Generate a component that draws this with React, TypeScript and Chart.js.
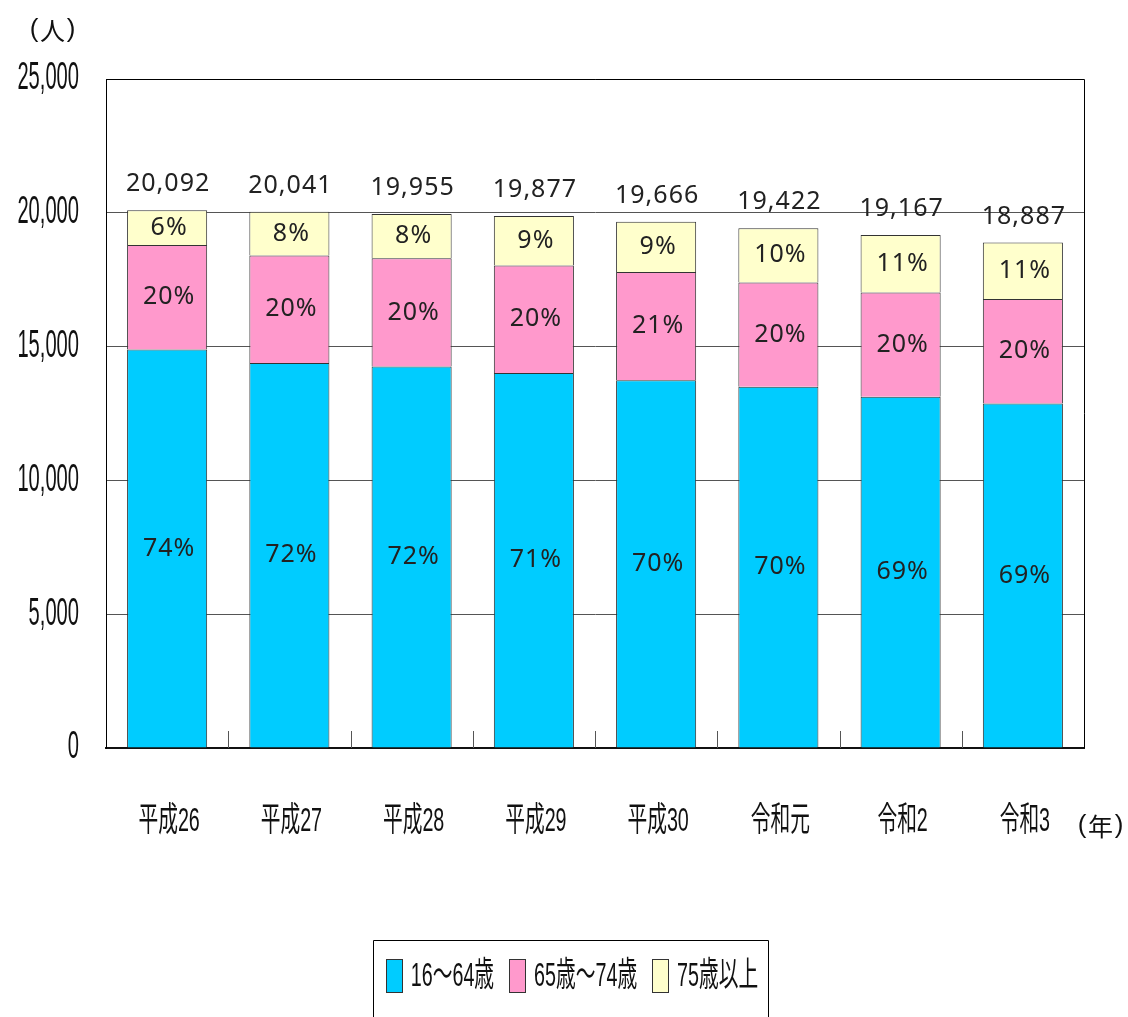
import React, { useEffect, useRef } from 'react';
import { Chart, registerables } from 'chart.js';

Chart.register(...registerables);

const categories = ['平成26', '平成27', '平成28', '平成29', '平成30', '令和元', '令和2', '令和3'];
const age16to64 = [14894, 14383, 14259, 14009, 13747, 13496, 13122, 12876];
const age65to74 = [3900, 4026, 4038, 4026, 4038, 3904, 3904, 3899];
const age75plus = [1298, 1632, 1658, 1842, 1881, 2022, 2141, 2112];
const totals = [20092, 20041, 19955, 19877, 19666, 19422, 19167, 18887];
const pct16to64 = ['74%', '72%', '72%', '71%', '70%', '70%', '69%', '69%'];
const pct65to74 = ['20%', '20%', '20%', '20%', '21%', '20%', '20%', '20%'];
const pct75plus = ['6%', '8%', '8%', '9%', '9%', '10%', '11%', '11%'];
const seriesNames = ['16～64歳', '65歳～74歳', '75歳以上'];
const seriesColors = ['#00CCFF', '#FF99CC', '#FFFFCC'];
const yUnit = '(人)';
const xUnit = '(年)';

const CJK = '"Liberation Sans", "Noto Sans CJK JP", sans-serif';
const CJK_ONLY = '"Noto Sans CJK JP", sans-serif';

function drawCondensed(ctx: CanvasRenderingContext2D, text: string, x: number, y: number, font: string, sx: number, align: 'left' | 'center' | 'right') {
  ctx.save();
  ctx.font = font;
  ctx.textBaseline = 'middle';
  ctx.textAlign = 'left';
  const w = ctx.measureText(text).width * sx;
  const left = align === 'center' ? x - w / 2 : align === 'right' ? x - w : x;
  ctx.translate(left, y);
  ctx.scale(sx, 1);
  ctx.fillStyle = '#111';
  ctx.fillText(text, 0, 0);
  ctx.restore();
  return w;
}

function measureCondensed(ctx: CanvasRenderingContext2D, text: string, font: string, sx: number) {
  ctx.save();
  ctx.font = font;
  const w = ctx.measureText(text).width * sx;
  ctx.restore();
  return w;
}

function drawUnit(ctx: CanvasRenderingContext2D, text: string, cx: number, cy: number) {
  const chars = Array.from(text);
  ctx.save();
  ctx.fillStyle = '#111';
  ctx.textAlign = 'center';
  ctx.textBaseline = 'middle';
  ctx.font = '26px "Liberation Sans", sans-serif';
  ctx.fillText(chars[0], cx - 18.5, cy);
  ctx.fillText(chars[2], cx + 18.5, cy);
  ctx.font = '25px ' + CJK_ONLY;
  ctx.fillText(chars[1], cx, cy);
  ctx.restore();
}

const decorPlugin = {
  id: 'decor',
  afterDraw(chart: any) {
    const ctx: CanvasRenderingContext2D = chart.ctx;
    const { left, right, top, bottom } = chart.chartArea;
    const xs = chart.scales.x;
    const ys = chart.scales.y;

    // frame top / right
    ctx.save();
    ctx.strokeStyle = '#000';
    ctx.lineWidth = 1;
    ctx.beginPath();
    ctx.moveTo(left, top + 0.5);
    ctx.lineTo(right + 0.5, top + 0.5);
    ctx.lineTo(right + 0.5, bottom);
    ctx.stroke();

    // x tick marks between categories (pointing up)
    ctx.strokeStyle = '#555';
    ctx.beginPath();
    for (let i = 0; i < categories.length - 1; i++) {
      const px = Math.round((xs.getPixelForValue(i) + xs.getPixelForValue(i + 1)) / 2) + 0.5;
      ctx.moveTo(px, bottom);
      ctx.lineTo(px, bottom - 17);
    }
    ctx.stroke();
    ctx.restore();

    // y tick labels
    ys.ticks.forEach((t: any) => {
      const py = ys.getPixelForValue(t.value);
      drawCondensed(ctx, t.value.toLocaleString('en-US'), left - 27, py, '38px "Liberation Sans"', 0.53, 'right');
    });

    // x tick labels
    xs.ticks.forEach((t: any, i: number) => {
      const px = xs.getPixelForValue(i);
      drawCondensed(ctx, categories[i], px + 2, 822, '34px ' + CJK, 0.58, 'center');
    });

    // units
    drawUnit(ctx, yUnit, 52.5, 30);
    drawUnit(ctx, xUnit, 1100.5, 826);

    // data labels
    ctx.save();
    ctx.font = '25px "Noto Sans", sans-serif';
    (ctx as any).letterSpacing = '1px';
    ctx.fillStyle = '#222';
    ctx.textAlign = 'center';
    ctx.textBaseline = 'middle';
    const pctSets = [pct16to64, pct65to74, pct75plus];
    chart.data.datasets.forEach((ds: any, di: number) => {
      const meta = chart.getDatasetMeta(di);
      meta.data.forEach((bar: any, i: number) => {
        const cy = (bar.y + bar.base) / 2;
        ctx.fillText(pctSets[di][i], bar.x + 2, cy);
      });
    });
    const topMeta = chart.getDatasetMeta(chart.data.datasets.length - 1);
    topMeta.data.forEach((bar: any, i: number) => {
      ctx.fillText(totals[i].toLocaleString('en-US'), bar.x + 1, bar.y - 26);
    });
    ctx.restore();

    // legend
    const font = '34px ' + CJK;
    const sx = 0.58;
    const boxW = 17, boxH = 34, gapBoxText = 8, gapItems = 15;
    const widths = seriesNames.map((n) => measureCondensed(ctx, n, font, sx));
    const total = widths.reduce((a, w) => a + boxW + gapBoxText + w, 0) + gapItems * (seriesNames.length - 1);
    const cx = 572;
    let x = cx - total / 2;
    const ly = 976;
    ctx.save();
    ctx.strokeStyle = '#000';
    ctx.lineWidth = 1;
    ctx.beginPath();
    ctx.moveTo(373.5, 1020);
    ctx.lineTo(373.5, 940.5);
    ctx.lineTo(768.5, 940.5);
    ctx.lineTo(768.5, 1020);
    ctx.stroke();
    ctx.restore();
    seriesNames.forEach((n, i) => {
      ctx.save();
      ctx.fillStyle = chart.data.datasets[i].backgroundColor;
      ctx.strokeStyle = '#333';
      ctx.lineWidth = 1;
      ctx.fillRect(Math.round(x), ly - boxH / 2, boxW, boxH);
      ctx.strokeRect(Math.round(x) + 0.5, ly - boxH / 2 + 0.5, boxW - 1, boxH - 1);
      ctx.restore();
      x += boxW + gapBoxText;
      drawCondensed(ctx, n, x, ly + 1, font, sx, 'left');
      x += widths[i] + gapItems;
    });
  },
};

export default function App() {
  const ref = useRef<HTMLCanvasElement | null>(null);
  useEffect(() => {
    if (!ref.current) return;
    const mk = (label: string, data: number[], color: string) => ({
      label,
      data,
      backgroundColor: color,
      borderColor: '#333',
      borderWidth: 1,
      barPercentage: 0.655,
      categoryPercentage: 1,
    });
    const chart = new Chart(ref.current, {
      type: 'bar',
      data: {
        labels: categories,
        datasets: [
          mk(seriesNames[0], age16to64, seriesColors[0]),
          mk(seriesNames[1], age65to74, seriesColors[1]),
          mk(seriesNames[2], age75plus, seriesColors[2]),
        ],
      },
      options: {
        animation: false,
        responsive: false,
        devicePixelRatio: 1,
        layout: { padding: { left: 106, right: 44, top: 79, bottom: 269 } },
        plugins: { legend: { display: false }, tooltip: { enabled: false } },
        scales: {
          x: {
            stacked: true,
            grid: { display: false, drawTicks: false },
            ticks: { display: false },
            border: { display: true, color: '#111', width: 2 },
          },
          y: {
            stacked: true,
            min: 0,
            max: 25000,
            ticks: { display: false, stepSize: 5000 },
            grid: { color: '#555', lineWidth: 1, drawTicks: false },
            border: { display: true, color: '#000', width: 1 },
          },
        },
      },
      plugins: [decorPlugin],
    });
    return () => chart.destroy();
  }, []);
  return (
    <div style={{ position: 'absolute', left: 0, top: 0, width: 1128, height: 1017, background: '#fff' }}>
      <canvas ref={ref} width={1128} height={1017} style={{ display: 'block' }} />
    </div>
  );
}
